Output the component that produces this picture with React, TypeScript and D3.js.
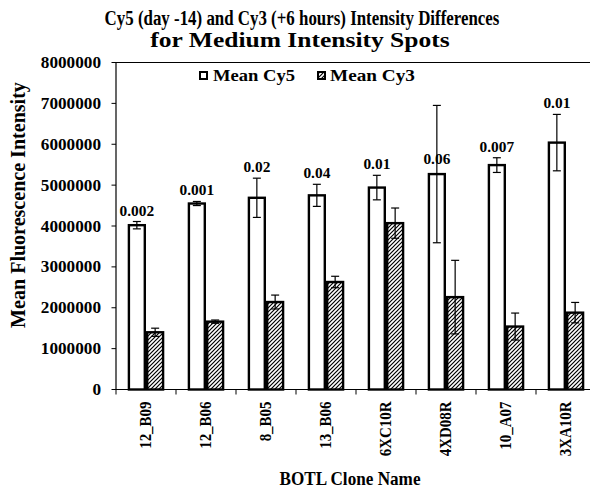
import React from "react";
import * as d3 from "d3";

const categories = ["12_B09", "12_B06", "8_B05", "13_B06", "6XC10R", "4XD08R", "10_A07", "3XA10R"];
const cy5Mean = [4020000, 4550000, 4690000, 4750000, 4940000, 5270000, 5490000, 6040000];
const cy5Err = [90000, 50000, 480000, 270000, 300000, 1680000, 180000, 690000];
const cy3Mean = [1400000, 1660000, 2140000, 2630000, 4070000, 2260000, 1540000, 1880000];
const cy3Err = [100000, 40000, 170000, 140000, 370000, 900000, 330000, 250000];
const pLabels = ["0.002", "0.001", "0.02", "0.04", "0.01", "0.06", "0.007", "0.01"];
const pOnBar = [false, false, false, false, false, true, false, false];
const yTicks = [0, 1000000, 2000000, 3000000, 4000000, 5000000, 6000000, 7000000, 8000000];
const seriesNames = ["Mean Cy5", "Mean Cy3"];

const FONT = "'Liberation Serif', 'Times New Roman', serif";

let ctx: CanvasRenderingContext2D | null = null;
function measure(text: string, size: number): number {
  if (!ctx) ctx = document.createElement("canvas").getContext("2d");
  if (!ctx) return text.length * size * 0.5;
  ctx.font = `bold ${size}px 'Liberation Serif'`;
  return ctx.measureText(text).width;
}
function sx(text: string, size: number, target: number): number {
  return target / measure(text, size);
}

export default function App() {
  const W = 590, H = 490;
  const left = 116, right = 596, top = 62.5, bottom = 389.5;
  const x0 = d3.scaleBand<string>().domain(categories).range([left, right]).paddingInner(0.39).paddingOuter(0.195);
  const x1 = d3.scaleBand<string>().domain(seriesNames).range([0, x0.bandwidth()]).padding(0);
  const y = d3.scaleLinear().domain([0, 8000000]).range([bottom, top]);
  const step = x0.step();
  const sw = 2.4;

  const t1 = "Cy5 (day -14) and Cy3 (+6 hours) Intensity Differences";
  const t2 = "for Medium Intensity Spots";
  const yt = "Mean Fluorescence Intensity";
  const xt = "BOTL Clone Name";

  return (
    <svg width={W} height={H} style={{ position: "absolute", left: 0, top: 0, background: "#fff" }} fontFamily={FONT}>
      <defs>
        <pattern id="hatch" patternUnits="userSpaceOnUse" width="4" height="4">
          <path d="M-1,1 l2,-2 M0,4 l4,-4 M3,5 l2,-2" stroke="#000" strokeWidth="1.2" />
        </pattern>
      </defs>
      <rect x={0} y={0} width={W} height={H} fill="#fff" />
      {/* Title */}
      <text transform={`translate(302,25) scale(${sx(t1, 20, 395)},1)`} textAnchor="middle" fontWeight="bold" fontSize={20}>{t1}</text>
      <text transform={`translate(300,47) scale(${sx(t2, 20, 300)},1)`} textAnchor="middle" fontWeight="bold" fontSize={20}>{t2}</text>

      {/* plot frame */}
      <line x1={left} x2={right} y1={top} y2={top} stroke="#000" strokeWidth={1.2} />
      <line x1={left} x2={left} y1={top} y2={bottom} stroke="#000" strokeWidth={1.2} />
      <line x1={left} x2={right} y1={bottom} y2={bottom} stroke="#000" strokeWidth={1.2} />

      {/* y ticks */}
      {yTicks.map((t) => (
        <g key={t}>
          <line x1={left - 4.5} x2={left} y1={y(t)} y2={y(t)} stroke="#000" strokeWidth={1} />
          <text transform={`translate(101,${y(t) + 5.5}) scale(${sx(String(t), 16, String(t).length * 8.6)},1)`}
            textAnchor="end" fontWeight="bold" fontSize={16}>{t}</text>
        </g>
      ))}

      {/* x ticks */}
      {categories.map((c, i) => (
        <line key={c} x1={left + step * i} x2={left + step * i} y1={bottom} y2={bottom + 5} stroke="#000" strokeWidth={1} />
      ))}

      {/* bars */}
      {categories.map((c, i) => {
        const bx = x0(c)!;
        const vals = [cy5Mean[i], cy3Mean[i]];
        const errs = [cy5Err[i], cy3Err[i]];
        return (
          <g key={c}>
            {seriesNames.map((s, j) => {
              const xx = bx + x1(s)!;
              const w = x1.bandwidth();
              const cx = xx + w / 2;
              return (
                <g key={s}>
                  <rect x={xx + sw / 2} y={y(vals[j])} width={w - sw} height={bottom - y(vals[j])}
                    fill={j === 0 ? "#fff" : "url(#hatch)"} stroke="#000" strokeWidth={sw} />
                  <line x1={cx} x2={cx} y1={y(vals[j] + errs[j])} y2={y(vals[j] - errs[j])} stroke="#000" strokeWidth={1.2} />
                  <line x1={cx - 4} x2={cx + 4} y1={y(vals[j] + errs[j])} y2={y(vals[j] + errs[j])} stroke="#000" strokeWidth={1.2} />
                  <line x1={cx - 4} x2={cx + 4} y1={y(vals[j] - errs[j])} y2={y(vals[j] - errs[j])} stroke="#000" strokeWidth={1.2} />
                </g>
              );
            })}
            <text transform={`translate(${bx + x1.bandwidth() / 2},${(pOnBar[i] ? y(cy5Mean[i]) - 4 : y(cy5Mean[i] + cy5Err[i])) - 6}) scale(1.1,1)`}
              textAnchor="middle" fontWeight="bold" fontSize={14}>{pLabels[i]}</text>
            <text transform={`translate(${bx + x0.bandwidth() / 2 + 5},${bottom + 12}) rotate(-90) scale(0.88,1)`}
              textAnchor="end" fontWeight="bold" fontSize={17}>{c}</text>
          </g>
        );
      })}

      {/* legend */}
      <rect x={200} y={72} width={7} height={7} fill="#fff" stroke="#000" strokeWidth={2} />
      <text transform={`translate(213,81) scale(${sx("Mean Cy5", 17, 82)},1)`} fontWeight="bold" fontSize={17}>Mean Cy5</text>
      <rect x={318} y={72} width={7} height={7} fill="url(#hatch)" stroke="#000" strokeWidth={2} />
      <text transform={`translate(330,81) scale(${sx("Mean Cy3", 17, 85)},1)`} fontWeight="bold" fontSize={17}>Mean Cy3</text>

      {/* axis titles */}
      <text transform={`translate(25,205) rotate(-90) scale(${sx(yt, 20, 246)},1)`} textAnchor="middle" fontWeight="bold" fontSize={20}>{yt}</text>
      <text transform={`translate(350,485) scale(${sx(xt, 19, 142)},1)`} textAnchor="middle" fontWeight="bold" fontSize={19}>{xt}</text>
    </svg>
  );
}
